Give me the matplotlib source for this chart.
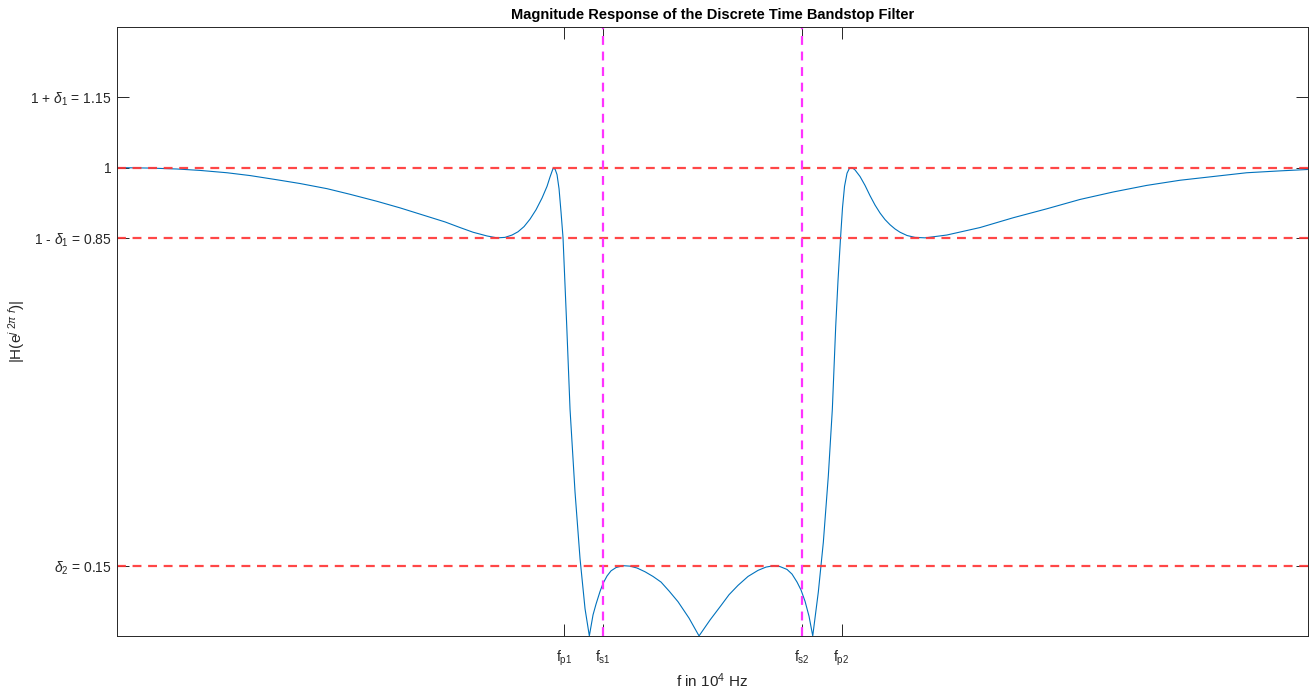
import numpy as np
import matplotlib
matplotlib.use("Agg")
import matplotlib.pyplot as plt

plt.rcParams['font.family'] = ['Liberation Sans', 'DejaVu Sans']
plt.rcParams['mathtext.fontset'] = 'custom'
plt.rcParams['mathtext.rm'] = 'Liberation Sans'
plt.rcParams['mathtext.it'] = 'Liberation Sans:italic'

# band edges in 10^4 Hz
FP1, FS1, FS2, FP2 = 4.5, 4.9, 6.9, 7.3
DELTA1 = 0.15
DELTA2 = 0.15

# magnitude response
f = [0.0, 0.3325, 0.6045, 0.8363, 1.1083, 1.3401, 1.6121, 1.8438, 2.1158, 2.3476,
     2.6197, 2.8514, 3.1234, 3.3048, 3.4559, 3.5869, 3.7280, 3.8287, 3.9093, 3.9798,
     4.0403, 4.1008, 4.1612, 4.2217, 4.2821, 4.3325, 4.3627, 4.3929, 4.4131, 4.4332,
     4.4534, 4.4735, 4.4937, 4.5310, 4.5642, 4.6146, 4.6650, 4.7154, 4.7587, 4.7960,
     4.8262, 4.8665, 4.8967, 4.9370, 4.9773, 5.0277, 5.0982, 5.1688, 5.2393, 5.3199,
     5.4004, 5.4811, 5.5617, 5.6524, 5.7632, 5.8640, 5.9748, 6.0856, 6.1662, 6.2569,
     6.3576, 6.4584, 6.5390, 6.6196, 6.6801, 6.7506, 6.8010, 6.8514, 6.8917, 6.9320,
     6.9723, 7.0096, 7.0660, 7.1164, 7.1668, 7.2071, 7.2413, 7.2645, 7.2897, 7.3098,
     7.3300, 7.3552, 7.3804, 7.4055, 7.4358, 7.4861, 7.5365, 7.5869, 7.6373, 7.6877,
     7.7380, 7.7884, 7.8388, 7.8892, 7.9597, 8.0403, 8.1411, 8.3597, 8.6953, 9.0307,
     9.3673, 9.7028, 10.0383, 10.3749, 10.7104, 11.0459, 11.3815, 11.7180, 12.0]
mag = [1.000, 0.999, 0.997, 0.994, 0.989, 0.983, 0.974, 0.966, 0.955, 0.943,
       0.928, 0.914, 0.896, 0.884, 0.872, 0.862, 0.854, 0.850, 0.851, 0.856,
       0.863, 0.874, 0.890, 0.910, 0.935, 0.960, 0.980, 0.998, 0.997, 0.985,
       0.955, 0.905, 0.850, 0.662, 0.484, 0.307, 0.165, 0.058, 0.000, 0.045,
       0.068, 0.095, 0.112, 0.128, 0.139, 0.146, 0.150, 0.149, 0.145, 0.137,
       0.127, 0.115, 0.096, 0.073, 0.038, 0.000, 0.034, 0.065, 0.088, 0.108,
       0.127, 0.140, 0.147, 0.150, 0.148, 0.142, 0.132, 0.115, 0.098, 0.074,
       0.042, 0.000, 0.094, 0.200, 0.342, 0.484, 0.662, 0.760, 0.850, 0.915,
       0.960, 0.988, 0.999, 1.000, 0.995, 0.981, 0.962, 0.940, 0.920, 0.903,
       0.889, 0.878, 0.869, 0.862, 0.855, 0.851, 0.850, 0.856, 0.872, 0.893,
       0.912, 0.932, 0.948, 0.962, 0.973, 0.981, 0.989, 0.993, 0.996]

xticks = [FP1, FS1, FS2, FP2]
xtick_labels = [r'$\mathregular{f_{p1}}$', r'$\mathregular{f_{s1}}$',
                r'$\mathregular{f_{s2}}$', r'$\mathregular{f_{p2}}$']
yticks = [DELTA2, 1 - DELTA1, 1, 1 + DELTA1]
ytick_labels = [r'$\delta_2$ = 0.15', r'1 - $\delta_1$ = 0.85', '1',
                r'1 + $\delta_1$ = 1.15']

fig = plt.figure(figsize=(13.15, 6.95), dpi=100)
ax = fig.add_axes([0.089, 0.085, 0.9057, 0.876])

ax.plot(f, mag, color='#0072BD', lw=0.8)
for h in [1, 1 - DELTA1, DELTA2]:
    ax.axhline(h, color='#ff3333', ls=(0, (4, 3)), lw=1.6, alpha=0.9)
for v in [FS1, FS2]:
    ax.axvline(v, color='#ff33ff', ls=(0, (4, 3)), lw=1.6)

ax.set_xlim(0, 12)
ax.set_ylim(0, 1.3)
ax.set_xticks(xticks)
ax.set_xticklabels(xtick_labels)
ax.set_yticks(yticks)
ax.set_yticklabels(ytick_labels)
ax.tick_params(direction='in', length=8.5, width=0.7, top=True, right=True,
               labelsize=10, colors='#262626')
ax.tick_params(axis='x', pad=9)
ax.tick_params(axis='y', pad=4)
for s in ax.spines.values():
    s.set_color('#262626')
    s.set_linewidth(0.7)

ax.set_title('Magnitude Response of the Discrete Time Bandstop Filter',
             fontsize=10.5, fontweight='bold', pad=6)
ax.set_xlabel(r'f in 10$^4$ Hz', fontsize=11, color='#262626')
ax.xaxis.set_label_coords(0.5, -0.059)
ax.set_ylabel(r'|H(e$^{j\ 2\pi\ f}$)|', fontsize=11, color='#262626')
ax.yaxis.set_label_coords(-0.0755, 0.5)

fig.savefig('out.png', dpi=100)
